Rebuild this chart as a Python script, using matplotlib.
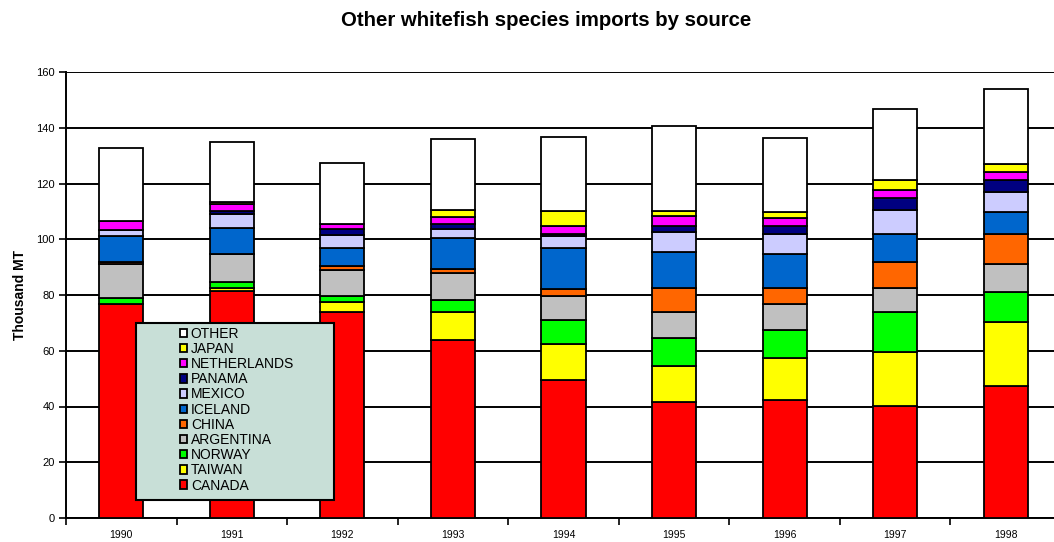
import matplotlib.pyplot as plt
import numpy as np
from matplotlib.patches import Patch, Rectangle

plt.rcParams['font.family'] = ['Liberation Sans', 'DejaVu Sans']

years = ['1990', '1991', '1992', '1993', '1994', '1995', '1996', '1997', '1998']

# thousand metric tonnes, stacked from the bottom up
canada = [76.8, 81.5, 74.0, 63.9, 49.6, 41.6, 42.4, 40.3, 47.3]
taiwan = [0.0, 1.0, 3.5, 10.1, 13.0, 12.8, 15.1, 19.3, 23.0]
norway = [2.1, 2.1, 2.1, 4.3, 8.6, 10.2, 9.9, 14.3, 10.7]
argentina = [12.1, 10.1, 9.4, 9.7, 8.6, 9.2, 9.5, 8.7, 10.2]
china = [1.0, 0.0, 1.3, 1.2, 2.2, 8.8, 5.7, 9.2, 10.7]
iceland = [9.1, 9.2, 6.5, 11.1, 15.0, 12.7, 12.2, 10.2, 7.9]
mexico = [2.3, 5.2, 4.8, 3.5, 4.0, 7.2, 7.2, 8.4, 7.1]
panama = [0.0, 1.2, 1.9, 1.7, 1.0, 2.4, 2.9, 4.4, 4.5]
netherlands = [3.3, 2.3, 1.8, 2.6, 2.8, 3.4, 2.8, 2.8, 2.6]
japan = [0.0, 0.9, 0.0, 2.5, 5.2, 1.7, 2.2, 3.6, 3.0]
other = [26.1, 21.5, 21.9, 25.2, 26.6, 30.7, 26.5, 25.4, 26.8]

series = [
    ('CANADA', canada, '#FF0000'),
    ('TAIWAN', taiwan, '#FFFF00'),
    ('NORWAY', norway, '#00FF00'),
    ('ARGENTINA', argentina, '#C0C0C0'),
    ('CHINA', china, '#FF6600'),
    ('ICELAND', iceland, '#0066CC'),
    ('MEXICO', mexico, '#CCCCFF'),
    ('PANAMA', panama, '#000080'),
    ('NETHERLANDS', netherlands, '#FF00FF'),
    ('JAPAN', japan, '#FFFF00'),
    ('OTHER', other, '#FFFFFF'),
]

W, H = 1054, 542
fig = plt.figure(figsize=(W / 100, H / 100), dpi=100)
ax = fig.add_axes([66 / W, (H - 518) / H, 995 / W, 446 / H])

x = np.arange(len(years))
bottom = np.zeros(len(years))
for name, vals, color in series:
    vals = np.array(vals)
    ax.bar(x, vals, 0.4, bottom=bottom, color=color, edgecolor='black',
           linewidth=1.3, zorder=3)
    bottom += vals

ax.set_xlim(-0.5, len(years) - 0.5)
ax.set_ylim(0, 160)
ax.set_yticks(np.arange(0, 161, 20))
ax.yaxis.grid(True, color='black', linewidth=1.4, zorder=0)
ax.set_axisbelow(True)

ax.set_xticks(x)
ax.set_xticklabels(years, fontsize=7.5)
ax.set_xticks(np.arange(-0.5, len(years), 1), minor=True)
ax.tick_params(axis='x', which='major', length=0, pad=9)
ax.tick_params(axis='x', which='minor', length=5, width=1.2, direction='out')
ax.tick_params(axis='y', length=5, width=1.2, labelsize=8, pad=3)

for side in ('top', 'right'):
    ax.spines[side].set_visible(False)
ax.spines['left'].set_linewidth(1.4)
ax.spines['bottom'].set_linewidth(1.4)

ax.set_ylabel('Thousand MT', fontsize=10, fontweight='bold', labelpad=7)
fig.text(0.518, 1 - 21 / H, 'Other whitefish species imports by source',
         ha='center', va='center', fontsize=14.7, fontweight='bold')

# legend box drawn by hand so it can be wider than its entries
fig.add_artist(Rectangle((136 / W, (H - 500) / H), 198 / W, 177 / H,
                         transform=fig.transFigure, facecolor='#C8DFD7',
                         edgecolor='black', linewidth=1.5, zorder=4))
handles = [Patch(facecolor=c, edgecolor='black', linewidth=1.3, label=n)
           for n, v, c in series[::-1]]
fig.legend(handles=handles, loc='upper left',
           bbox_to_anchor=(170 / W, 1 - 317 / H), frameon=False,
           fontsize=10, handlelength=0.55, handleheight=0.55,
           handletextpad=0.25, labelspacing=0.085, borderpad=0.2)

fig.savefig('out.png', dpi=100)
